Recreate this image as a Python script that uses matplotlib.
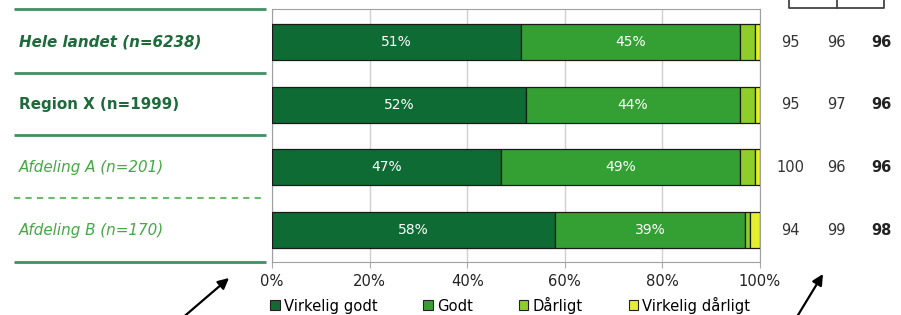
import matplotlib
matplotlib.use("Agg")
import matplotlib.pyplot as plt
import numpy as np
from matplotlib.patches import Patch
from matplotlib.transforms import blended_transform_factory

# ── data ─────────────────────────────────────
groups = ["Hele landet (n=6238)", "Region X (n=1999)",
          "Afdeling A (n=201)", "Afdeling B (n=170)"]
series_names = ["Virkelig godt", "Godt", "Dårligt", "Virkelig dårligt"]
virkelig_godt = [51, 52, 47, 58]
godt = [45, 44, 49, 39]
daarligt = [3, 3, 3, 1]
virkelig_daarligt = [1, 1, 1, 2]
col1 = [95, 95, 100, 94]
col2 = [96, 97, 96, 99]
col3 = [96, 96, 96, 98]
xticks = [0, 20, 40, 60, 80, 100]

colors = ["#0d6b33", "#34a034", "#8fce2a", "#e6ef2c"]
W, H = 901, 315

fig = plt.figure(figsize=(W / 100, H / 100), dpi=100)
ax = fig.add_axes([272 / W, (H - 262) / H, (760 - 272) / W, (262 - 9) / H])

y = np.arange(len(groups))
left = np.zeros(len(groups))
for vals, c in zip([virkelig_godt, godt, daarligt, virkelig_daarligt], colors):
    bars = ax.barh(y, vals, left=left, height=0.575, color=c,
                   edgecolor="#1a1a1a", linewidth=0.9, zorder=3)
    if c in colors[:2]:
        for b, v in zip(bars, vals):
            ax.text(b.get_x() + b.get_width() / 2, b.get_y() + b.get_height() / 2,
                    f"{v}%", color="white", ha="center", va="center",
                    fontsize=10, zorder=4)
    left += np.array(vals)

ax.set_xlim(0, 100)
ax.set_ylim(3.51, -0.527)
ax.set_yticks([])
ax.set_xticks(xticks)
ax.set_xticklabels([f"{t}%" for t in xticks], fontsize=10.6, color="#222222")
ax.tick_params(axis="x", length=4, color="#aaaaaa", pad=5)
ax.grid(axis="x", color="#d0d0d0", linewidth=1, zorder=0)
for s in ax.spines.values():
    s.set_color("#a0a0a0")

# right-hand numbers
tr = blended_transform_factory(fig.transFigure, ax.transData)
for i in range(len(groups)):
    ax.text(790 / W, i, str(col1[i]), transform=tr, ha="center", va="center",
            fontsize=10.5, color="#333333", clip_on=False)
    ax.text(836 / W, i, str(col2[i]), transform=tr, ha="center", va="center",
            fontsize=10.5, color="#333333", clip_on=False)
    ax.text(881 / W, i, str(col3[i]), transform=tr, ha="center", va="center",
            fontsize=10.5, color="#222222", fontweight="bold", clip_on=False)

# row labels
label_styles = [("bold", "italic", "#1d6b3b"), ("bold", "normal", "#1d6b3b"),
                ("normal", "italic", "#45a845"), ("normal", "italic", "#45a845")]
for i, (g, (fw, fs, fc)) in enumerate(zip(groups, label_styles)):
    ax.text(19 / W, i, g, transform=tr, ha="left", va="center", fontsize=10.9,
            fontweight=fw, fontstyle=fs, color=fc, clip_on=False)

# overlay for decorations
ov = fig.add_axes([0, 0, 1, 1], zorder=-1)
ov.set_xlim(0, W)
ov.set_ylim(H, 0)
ov.axis("off")
ov.patch.set_alpha(0)
for yy in [9, 73, 135, 262]:
    ov.plot([14, 266], [yy, yy], color="#3f9160", lw=2, solid_capstyle="butt")
ov.plot([14, 266], [198, 198], color="#6cbb6c", lw=1.5, ls=(0, (3, 2.5)))

# bracket at top right
ov.plot([789, 789, 884, 884], [-2, 8, 8, -2], color="#444444", lw=1.3)
ov.plot([837, 837], [-2, 8], color="#444444", lw=1.3)

# arrows
ax_ov = fig.add_axes([0, 0, 1, 1], zorder=5)
ax_ov.set_xlim(0, W)
ax_ov.set_ylim(H, 0)
ax_ov.axis("off")
ax_ov.patch.set_alpha(0)
ax_ov.annotate("", xy=(229, 278), xytext=(180, 320),
               arrowprops=dict(arrowstyle="-|>", color="black", lw=1.6,
                               mutation_scale=16, shrinkA=0, shrinkB=0))
ax_ov.annotate("", xy=(823, 274), xytext=(795, 320),
               arrowprops=dict(arrowstyle="-|>", color="black", lw=1.6,
                               mutation_scale=16, shrinkA=0, shrinkB=0))

handles = [Patch(facecolor=c, edgecolor="#222222", linewidth=0.8) for c in colors]
fig.legend(handles, series_names, loc="center left",
           bbox_to_anchor=(270 / W, 1 - 305 / H), ncol=4, frameon=False,
           fontsize=10.6, handlelength=0.65, handleheight=0.65, handletextpad=0.3,
           columnspacing=3.1, borderaxespad=0, borderpad=0)

fig.savefig("out.png", dpi=100)
